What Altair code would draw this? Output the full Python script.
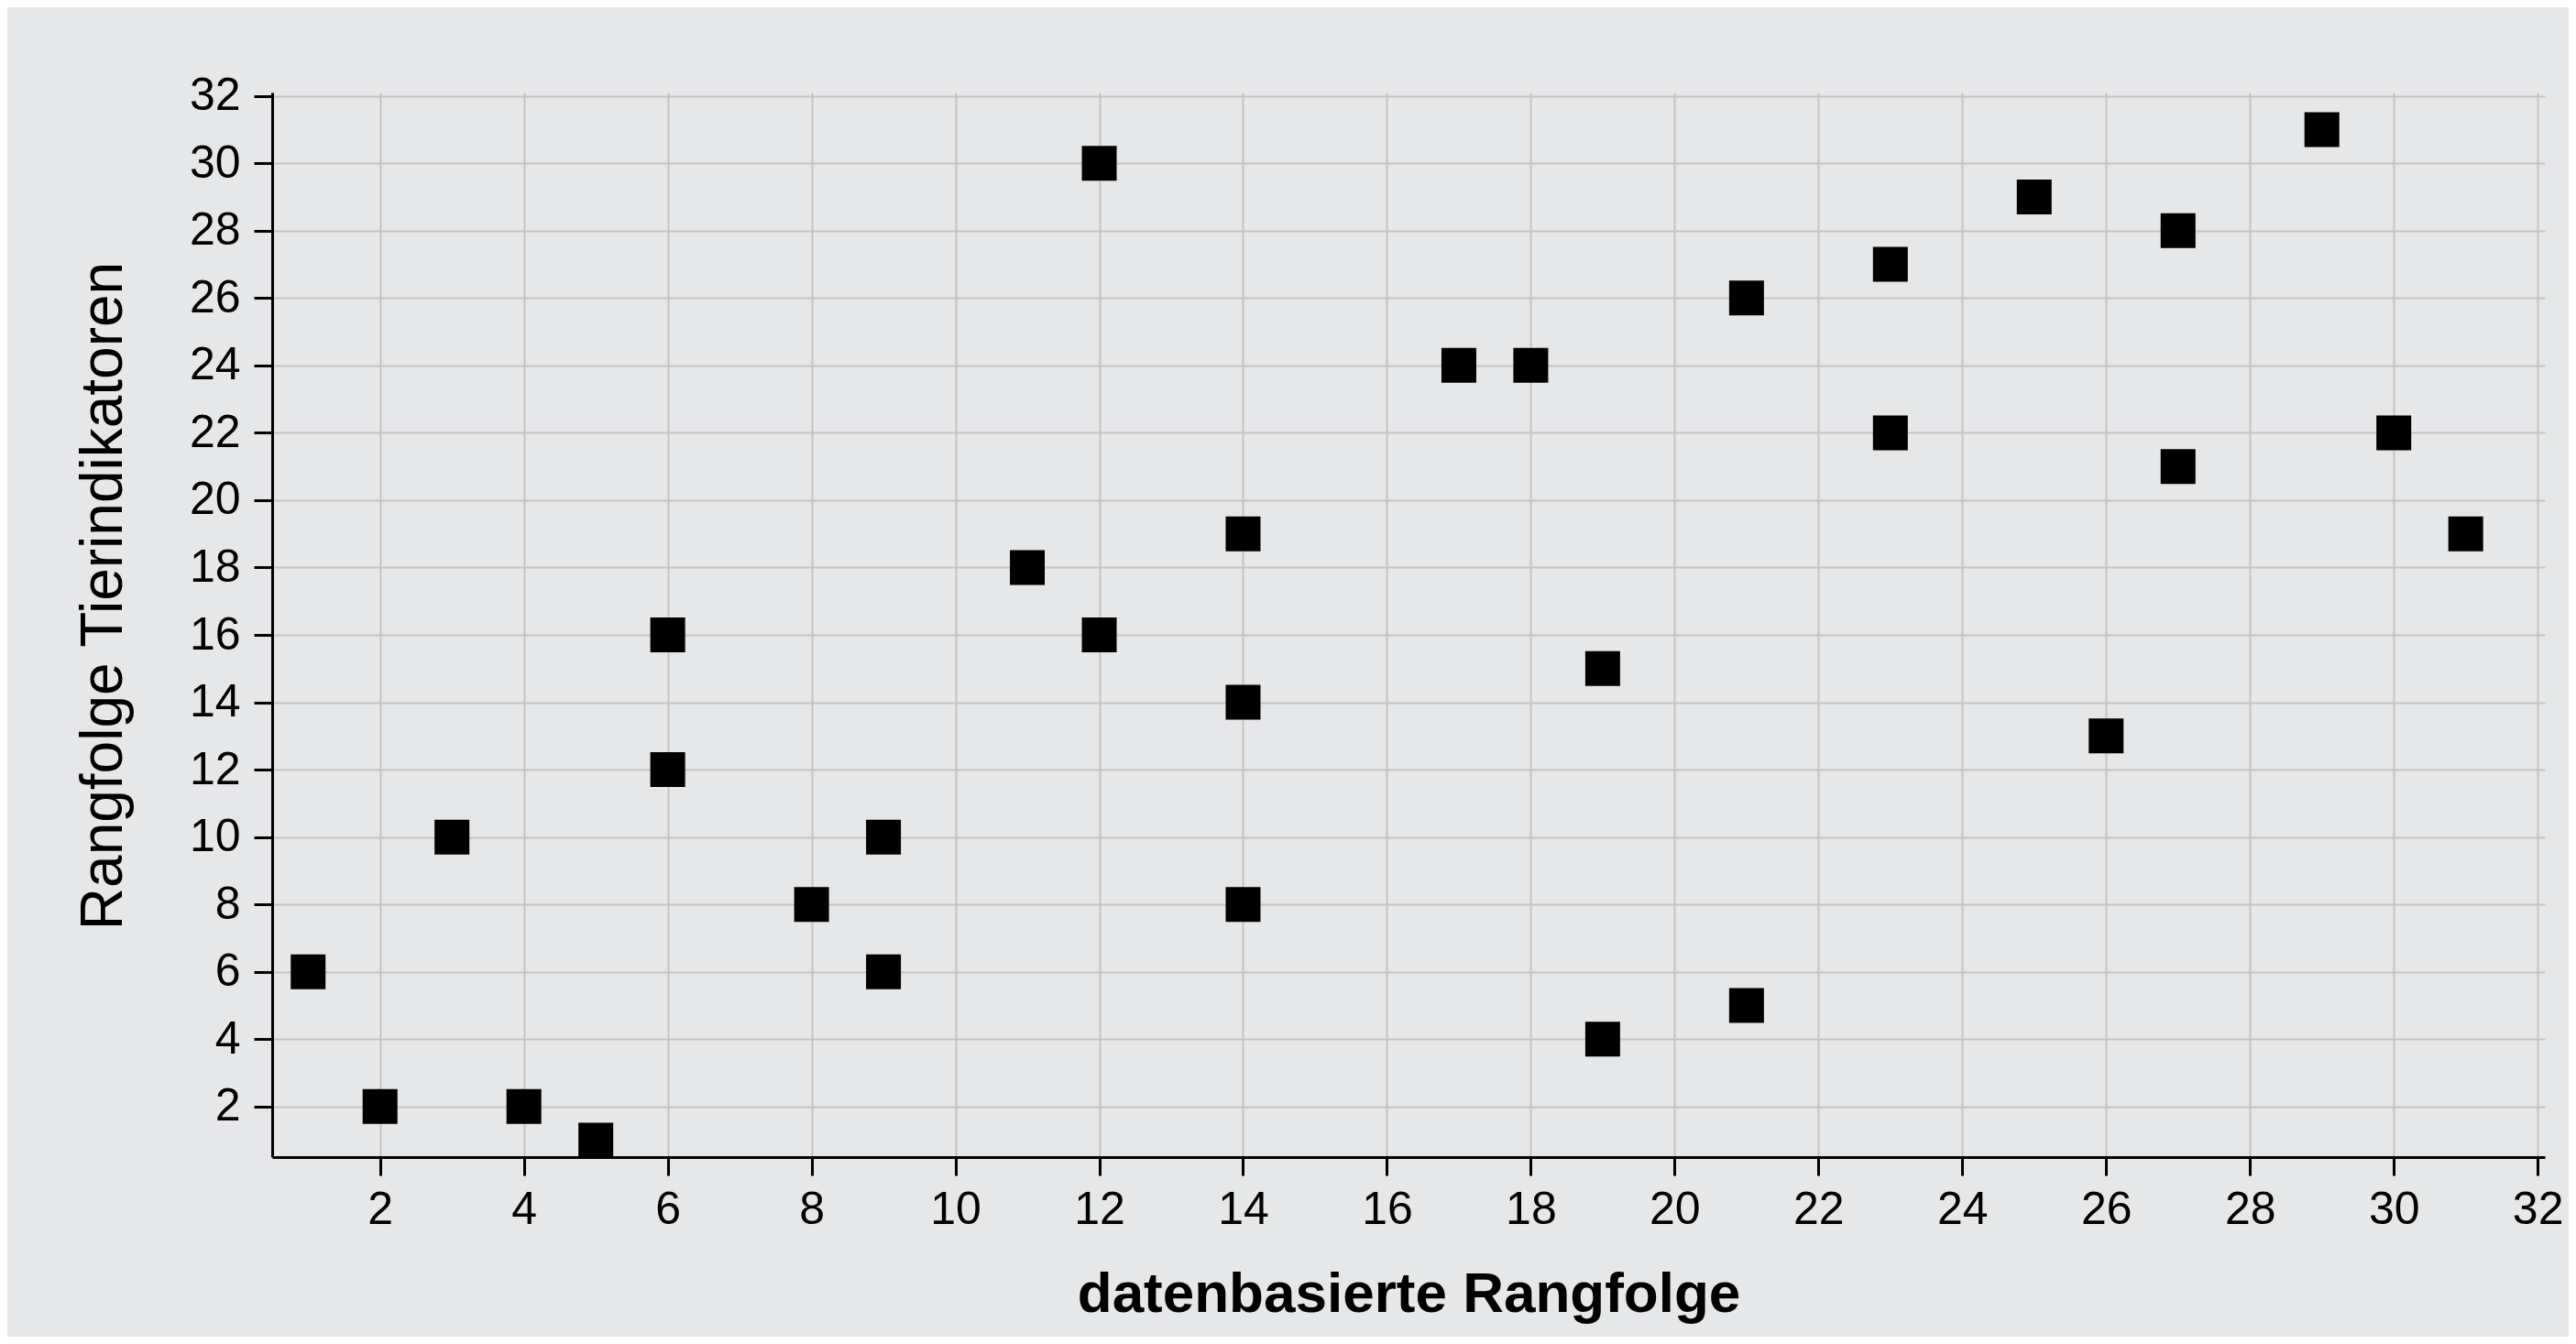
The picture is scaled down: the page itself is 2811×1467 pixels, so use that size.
import altair as alt
import pandas as pd

# datenbasierte Rangfolge (x) and Rangfolge Tierindikatoren (y)
daten_rang = [1, 2, 3, 4, 5, 6, 6, 8, 9, 9, 11, 12, 12, 14, 14, 14, 17, 18, 19, 19,
              21, 21, 23, 23, 25, 26, 27, 27, 29, 30, 31]
tier_rang = [6, 2, 10, 2, 1, 16, 12, 8, 10, 6, 18, 30, 16, 19, 14, 8, 24, 24, 15, 4,
             26, 5, 27, 22, 29, 13, 28, 21, 31, 22, 19]

x_ticks = list(range(2, 33, 2))
y_ticks = list(range(2, 33, 2))

df = pd.DataFrame({"x": daten_rang, "y": tier_rang})

W, H = 2480, 1162
BG = "#e6e7e9"
FONT = "Liberation Sans"

chart = (
    alt.Chart(df)
    .mark_point(shape="square", filled=True, color="black", size=1444, opacity=1)
    .encode(
        x=alt.X(
            "x:Q",
            scale=alt.Scale(domain=[0.5, 32.1], zero=False, nice=False),
            axis=alt.Axis(
                values=x_ticks,
                title="datenbasierte Rangfolge",
                titleFontWeight="bold",
                titleFontSize=62,
                titleX=W / 2,
                titleY=149,
                titleAlign="center",
                titleBaseline="middle",
                labelPadding=12,
            ),
        ),
        y=alt.Y(
            "y:Q",
            scale=alt.Scale(domain=[0.5, 32.1], zero=False, nice=False),
            axis=alt.Axis(
                values=y_ticks,
                title="Rangfolge Tierindikatoren",
                titleFontWeight="normal",
                titleFontSize=64,
                titleAngle=270,
                titleX=-184,
                titleY=549,
                titleAlign="center",
                titleBaseline="middle",
                labelPadding=15,
            ),
        ),
    )
    .properties(
        width=W,
        height=H,
        background=BG,
        autosize=alt.AutoSizeParams(type="none"),
        padding={"left": 289, "top": 93, "right": 26, "bottom": 196},
    )
    .configure_axis(
        domainColor="black",
        domainWidth=3,
        tickColor="black",
        tickWidth=3,
        tickSize=20,
        gridColor="#c3c3c3",
        gridWidth=2,
        labelFont=FONT,
        labelFontSize=50,
        labelColor="black",
        titleFont=FONT,
        titleColor="black",
        labelFlush=False,
        labelOverlap=False,
    )
    .configure_view(strokeOpacity=0)
)

chart.save("out.html", embed_options={"renderer": "svg", "actions": False})
